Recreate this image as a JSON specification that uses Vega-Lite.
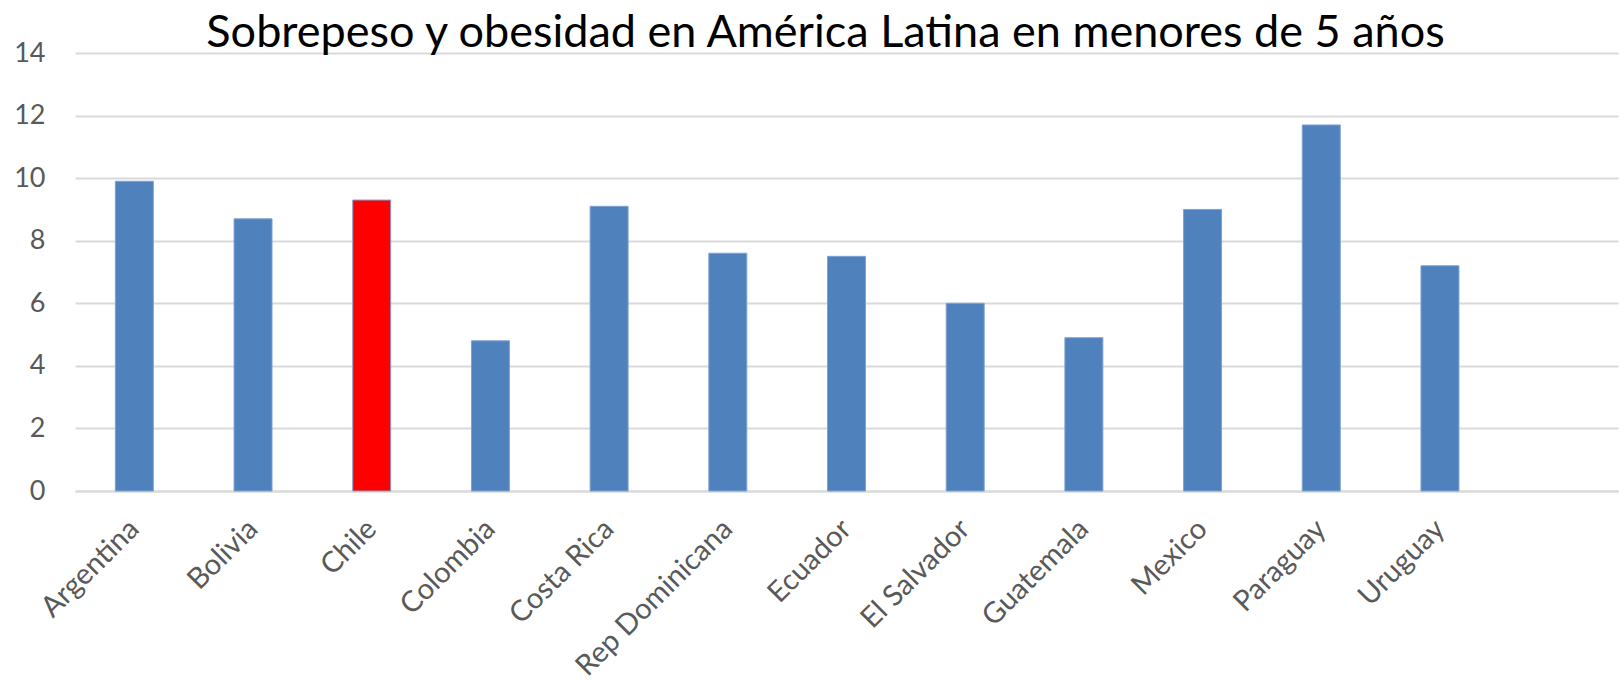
{
  "$schema": "https://vega.github.io/schema/vega-lite/v6.json",
  "autosize": "none",
  "width": 1543,
  "height": 438,
  "padding": {"left": 75, "top": 53, "right": 1, "bottom": 190},
  "background": "white",
  "title": {
    "text": "Sobrepeso y obesidad en América Latina en menores de 5 años",
    "font": "Lato",
    "fontSize": 45,
    "fontWeight": "normal",
    "color": "#000000",
    "anchor": "middle",
    "frame": "group",
    "baseline": "alphabetic",
    "offset": -53,
    "dx": -21
  },
  "data": {
    "values": [
      {"country": "Argentina", "value": 9.9},
      {"country": "Bolivia", "value": 8.7},
      {"country": "Chile", "value": 9.3},
      {"country": "Colombia", "value": 4.8},
      {"country": "Costa Rica", "value": 9.1},
      {"country": "Rep Dominicana", "value": 7.6},
      {"country": "Ecuador", "value": 7.5},
      {"country": "El Salvador", "value": 6.0},
      {"country": "Guatemala", "value": 4.9},
      {"country": "Mexico", "value": 9.0},
      {"country": "Paraguay", "value": 11.7},
      {"country": "Uruguay", "value": 7.2}
    ]
  },
  "config": {
    "view": {"stroke": null},
    "font": "Lato"
  },
  "mark": {"type": "bar", "stroke": "#7fa2cf", "strokeWidth": 1},
  "encoding": {
    "x": {
      "field": "country",
      "type": "nominal",
      "scale": {
        "domain": ["Argentina", "Bolivia", "Chile", "Colombia", "Costa Rica", "Rep Dominicana", "Ecuador", "El Salvador", "Guatemala", "Mexico", "Paraguay", "Uruguay", " "],
        "paddingInner": 0.68,
        "paddingOuter": 0.34
      },
      "axis": {
        "title": null,
        "labelAngle": -45,
        "labelAlign": "right",
        "labelBaseline": "middle",
        "labelFont": "Lato",
        "labelFontSize": 29,
        "labelColor": "#595959",
        "labelPadding": 33,
        "labelLimit": 0,
        "ticks": false,
        "domainColor": "#d9d9d9",
        "domainWidth": 2,
        "grid": false
      }
    },
    "y": {
      "field": "value",
      "type": "quantitative",
      "scale": {"domain": [0, 14], "nice": false},
      "axis": {
        "title": null,
        "values": [0, 2, 4, 6, 8, 10, 12, 14],
        "labelFont": "Lato",
        "labelFontSize": 27,
        "labelColor": "#595959",
        "labelPadding": 30,
        "ticks": false,
        "domain": false,
        "grid": true,
        "gridColor": "#d9d9d9",
        "gridWidth": 2
      }
    },
    "color": {
      "condition": {"test": "datum.country === 'Chile'", "value": "#ff0000"},
      "value": "#4f81bd"
    }
  }
}
